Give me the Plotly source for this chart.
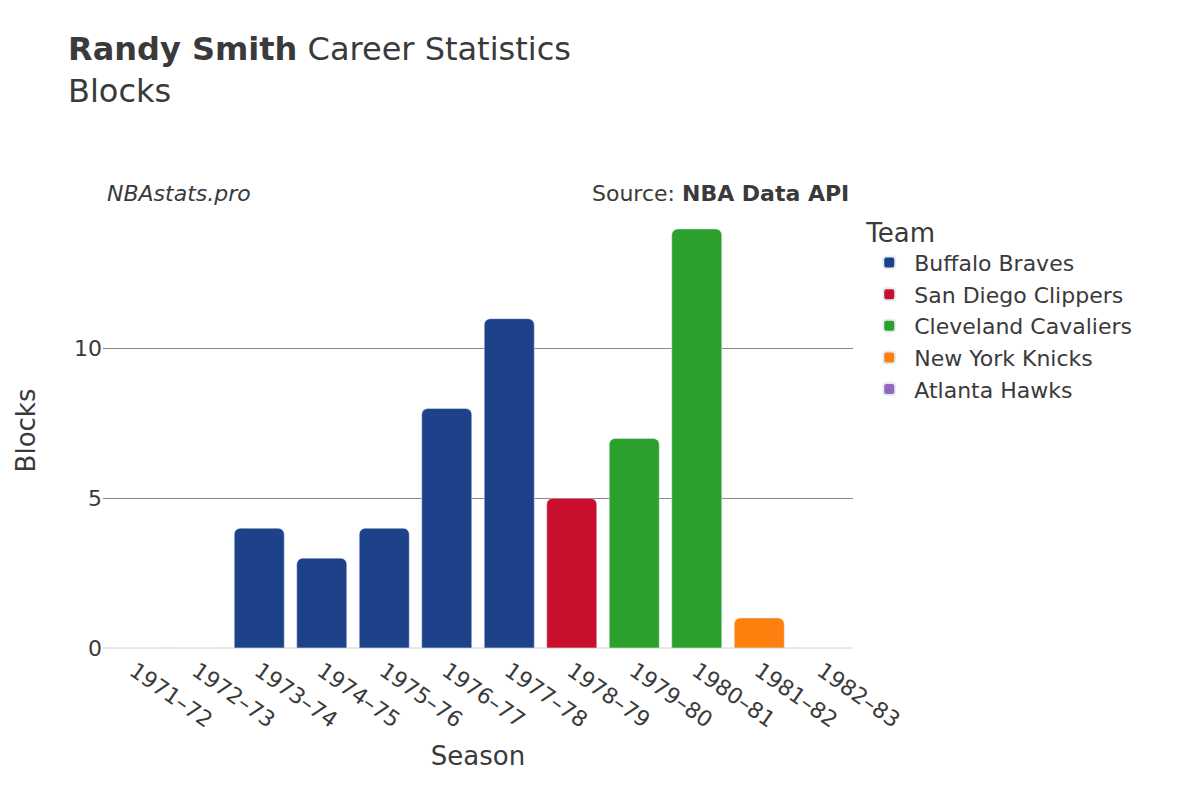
import plotly.graph_objects as go

seasons = ["1971–72","1972–73","1973–74","1974–75","1975–76","1976–77","1977–78","1978–79","1979–80","1980–81","1981–82","1982–83"]
teams = ["Buffalo Braves","Buffalo Braves","Buffalo Braves","Buffalo Braves","Buffalo Braves","Buffalo Braves","Buffalo Braves","San Diego Clippers","Cleveland Cavaliers","Cleveland Cavaliers","New York Knicks","Atlanta Hawks"]
blocks = [0,0,4,3,4,8,11,5,7,14,1,0]
team_order = ["Buffalo Braves","San Diego Clippers","Cleveland Cavaliers","New York Knicks","Atlanta Hawks"]
colors = {"Buffalo Braves":"#1d428a","San Diego Clippers":"#c8102e","Cleveland Cavaliers":"#2ca02c","New York Knicks":"#ff7f0e","Atlanta Hawks":"#9467bd"}

fig = go.Figure()
for t in team_order:
    xs = [s for s, tt in zip(seasons, teams) if tt == t]
    ys = [b for b, tt in zip(blocks, teams) if tt == t]
    fig.add_trace(go.Bar(x=xs, y=ys, name=t, marker_color=colors[t]))

fig.update_layout(
    width=1200, height=800,
    font=dict(family="DejaVu Sans", color="#3a3a3a", size=20),
    plot_bgcolor="white", paper_bgcolor="white",
    barmode="overlay", barcornerradius=6, bargap=0.2,
    margin=dict(l=95, r=355, t=200, b=155),
    title=dict(text="<b>Randy Smith</b> Career Statistics<br>Blocks", x=0.05, xanchor="left", y=0.935, yanchor="top", font=dict(size=32, color="#3a3a3a")),
    legend=dict(title=dict(text="Team", font=dict(size=26)), x=1.015, y=1.0, xref="paper", yref="paper", font=dict(size=22), itemwidth=40, traceorder="normal", yanchor="top", xanchor="left", itemsizing="constant"),
    xaxis=dict(title=dict(text="Season", font=dict(size=26)), categoryorder="array", categoryarray=seasons, tickangle=35, tickfont=dict(size=22), showgrid=False, automargin=False),
    yaxis=dict(title=dict(text="Blocks", font=dict(size=26), standoff=30), range=[-0.17, 14.7], tickvals=[0,5,10], gridcolor="#888", zeroline=True, zerolinecolor="#e8e8e8", zerolinewidth=2, tickfont=dict(size=22), automargin=False),
    annotations=[
        dict(text="<i>NBAstats.pro</i>", x=0.003, xanchor="left", y=1.0, yanchor="bottom", xref="paper", yref="paper", showarrow=False, font=dict(size=22)),
        dict(text="Source: <b>NBA Data API</b>", x=0.997, y=1.0, xref="paper", yref="paper", xanchor="right", yanchor="bottom", showarrow=False, font=dict(size=22)),
    ],
)
fig.write_html("out.html")
